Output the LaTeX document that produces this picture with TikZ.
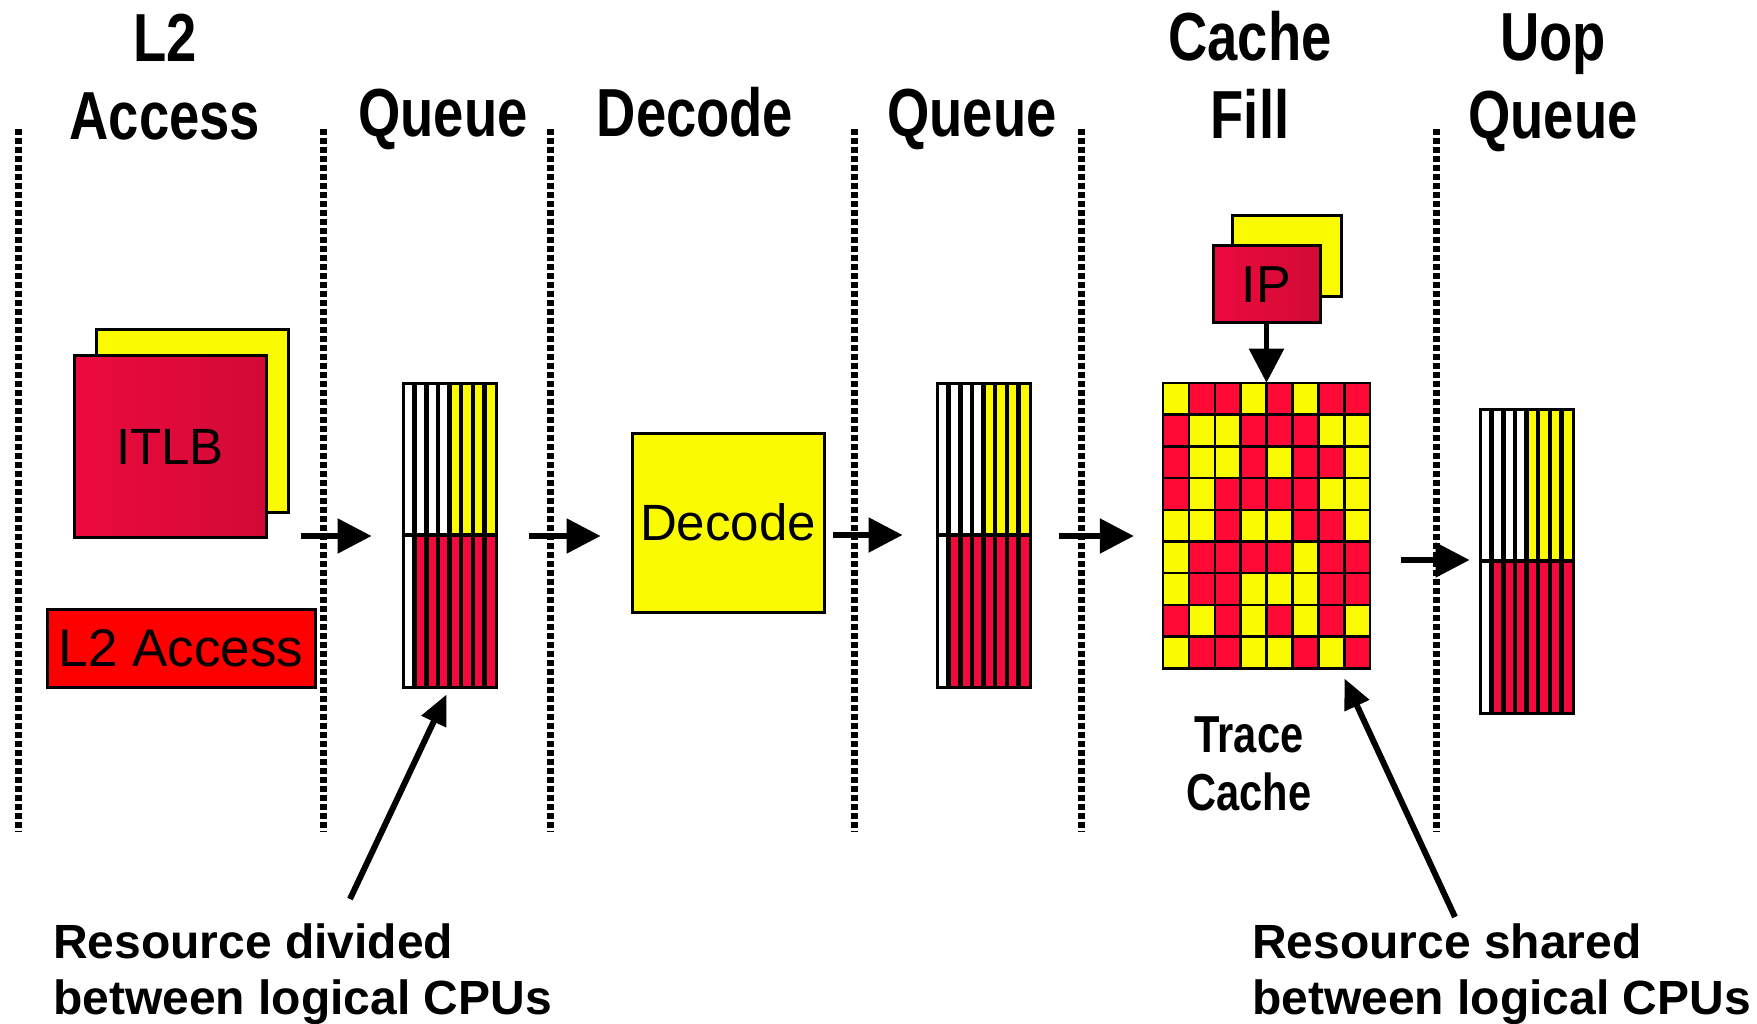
\documentclass[tikz,border=0pt]{standalone}
\usepackage{fontspec}
\usepackage{tikz}
\usetikzlibrary{arrows.meta}
\setmainfont{Liberation Sans}
\newfontfamily\headfont[FakeStretch=0.8]{Liberation Sans Bold}

\definecolor{hyellow}{HTML}{FAFA00}
\definecolor{hred}{HTML}{FF0000}
\definecolor{qred}{HTML}{F20A3C}
\definecolor{tcY}{HTML}{FAFA00}
\definecolor{tcR}{HTML}{FF0A37}
\definecolor{redL}{HTML}{EC0A3E}
\definecolor{redR}{HTML}{D20A36}

\newcommand{\stripequeue}[3]{%
  \begin{scope}[shift={(#2,#3)}]
    \foreach \i in {0,...,3} \fill[white] (\i*11.625,0) rectangle ++(11.625,152);
    \foreach \i in {4,...,7} \fill[hyellow] (\i*11.625,0) rectangle ++(11.625,152);
    \fill[white] (0,152) rectangle (11.625,304);
    \foreach \i in {1,...,7} \fill[qred] (\i*11.625,152) rectangle ++(11.625,152);
    \foreach \i in {1,...,7} \draw[line width=4.5pt] (\i*11.625,0) -- (\i*11.625,304);
    \draw[line width=4.5pt] (0,152) -- (93,152);
    \node[draw, line width=3pt, inner sep=0pt, minimum width=93pt, minimum height=304pt] (#1) at (46.5,152) {};
  \end{scope}}

\begin{document}
\begin{tikzpicture}[x=1pt,y=-1pt,
  stagesep/.style={line width=7pt, dash pattern=on 6pt off 3pt},
  head/.style={font=\headfont\fontsize{68}{78}\selectfont, align=center, inner sep=0pt},
  stagebox/.style={draw, line width=3pt, inner sep=0pt, font=\fontsize{51}{60}\selectfont},
  redstack/.style={stagebox, left color=redL, right color=redR},
  yellowstack/.style={stagebox, fill=hyellow},
  pipe/.style={line width=5.5pt, -{Triangle[length=34pt,width=34pt]}},
  note/.style={line width=6pt, -{Triangle[length=30pt,width=26pt]}},
  notetext/.style={font=\bfseries\fontsize{48}{56}\selectfont, align=left, inner sep=0pt}]
\useasboundingbox (0,0) rectangle (1757,1024);

\foreach \x in {18,323,550,854,1081,1436} \draw[stagesep] (\x,129) -- (\x,832);

\node[head, anchor=base] (hl2) at (165,140) {L2\\Access};
\node[head, anchor=base] (hq1) at (443,137) {Queue};
\node[head, anchor=base] (hdec) at (695,137) {Decode};
\node[head, anchor=base] (hq2) at (972,137) {Queue};
\node[head, anchor=base] (hfill) at (1250,139) {Cache\\Fill};
\node[head, anchor=base] (huop) at (1553,139) {Uop\\Queue};

\node[yellowstack, minimum width=192pt, minimum height=182pt] (itlbback) at (192,421) {};
\node[redstack, minimum width=192pt, minimum height=181pt] (itlb) at (170,446.5) {ITLB};
\node[stagebox, fill=hred, minimum width=268pt, minimum height=78pt, font=\fontsize{53}{60}\selectfont] (l2) at (181,648) {L2 Access};

\stripequeue{q1}{403}{383}
\node[yellowstack, minimum width=192pt, minimum height=179pt] (dec) at (728,522.5) {Decode};
\stripequeue{q2}{937}{383}

\node[yellowstack, minimum width=109pt, minimum height=81pt] (ipback) at (1286.5,256.5) {};
\node[redstack, minimum width=107pt, minimum height=77pt, font=\fontsize{52}{60}\selectfont] (ip) at (1266.5,284.5) {IP};

\begin{scope}[shift={(1163,383)}]
  \foreach \row [count=\r from 0] in {{Y,R,R,Y,R,Y,R,R},{R,Y,Y,R,R,R,Y,Y},{R,Y,Y,R,Y,R,R,Y},
      {R,Y,R,R,R,R,Y,Y},{Y,Y,R,Y,Y,R,R,Y},{Y,R,R,R,R,Y,R,R},{Y,R,R,Y,Y,Y,R,R},
      {R,Y,R,Y,R,Y,R,Y},{Y,R,R,Y,Y,R,Y,R}}
    \foreach \c [count=\k from 0] in \row
      \draw[line width=2.5pt, fill=tc\c] (\k*25.9,\r*31.7) rectangle ++(25.9,31.7);
\end{scope}
\node[inner sep=0pt, minimum width=207.2pt, minimum height=285.3pt] (tcache) at (1266.6,525.6) {};
\node[head, font=\headfont\fontsize{52}{58}\selectfont, anchor=base] (tclabel) at (1249,810) {Trace\\Cache};

\stripequeue{uop}{1480}{409}

\coordinate (a1) at (301,536);
\coordinate (a2) at (529,536);
\coordinate (a3) at (833,535);
\coordinate (a4) at (1059,536);
\coordinate (a5) at (1401,560);
\draw[pipe, shorten >=30pt] (a1) -- (a1 -| q1.west);
\draw[pipe, shorten >=30pt] (a2) -- (a2 -| dec.west);
\draw[pipe, shorten >=33pt] (a3) -- (a3 -| q2.west);
\draw[pipe, shorten >=29pt] (a4) -- (a4 -| tcache.west);
\draw[pipe, shorten >=9pt] (a5) -- (a5 -| uop.west);
\draw[pipe] (ip.south) -- (ip.south |- tcache.north);

\coordinate (divtail) at (350,899);
\coordinate (shrtail) at (1455,917);
\draw[note] (divtail) -- ([xshift=-3pt,yshift=-6pt]q1.south);
\draw[note] (shrtail) -- ([xshift=-26pt,yshift=-10pt]tcache.south east);
\node[notetext, anchor=base west] (divtext) at (53,1014) {Resource divided\\between logical CPUs};
\node[notetext, anchor=base west] (shrtext) at (1252,1014) {Resource shared\\between logical CPUs};
\end{tikzpicture}
\end{document}
